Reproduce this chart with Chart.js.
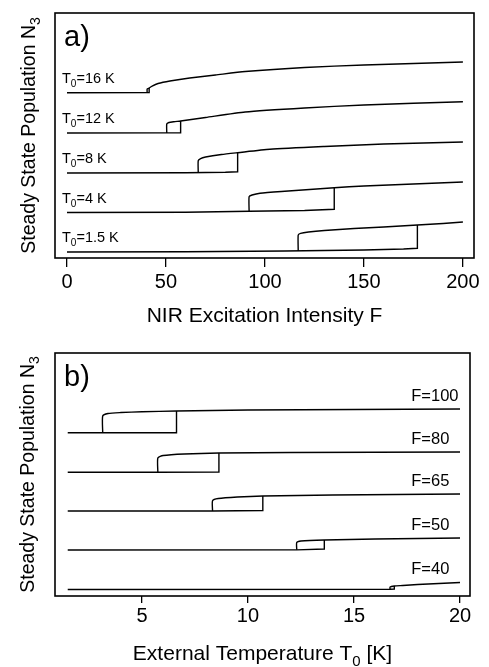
<!DOCTYPE html>
<html>
<head>
<meta charset="utf-8">
<script src="https://cdn.jsdelivr.net/npm/chart.js@4.4.1/dist/chart.umd.min.js"></script>
<style>
  body { margin: 0; background: #fff; }
  #wrap { position: relative; width: 489px; height: 667px; }
  canvas { position: absolute; left: 0; }
</style>
</head>
<body>
<div id="wrap">
  <canvas id="chartA" width="489" height="330" style="top:0"></canvas>
  <canvas id="chartB" width="489" height="337" style="top:330px"></canvas>
</div>
<script>
// ---- panel a) : N3 vs NIR excitation intensity F, one curve per T0 ----
const tempsA = ["1.5", "4", "8", "12", "16"];
// lower branch (ends with the jump up)
const lowFA = [
  [0, 60, 110, 150, 170, 177, 177],
  [0, 60, 92, 120, 135, 135],
  [0, 60, 80, 86.2, 86.2],
  [0, 50, 57.4, 57.4],
  [0, 41.5, 41.5]
];
const lowNA = [
  [0.245, 0.253, 0.286, 0.327, 0.367, 0.396, 1.347],
  [1.857, 1.869, 1.906, 1.939, 1.988, 2.869],
  [3.469, 3.478, 3.498, 3.522, 4.298],
  [5.102, 5.106, 5.114, 5.592],
  [6.747, 6.75, 6.939]
];
// upper branch (starts with the jump down)
const upFA = [
  [116.8, 116.8, 118, 122, 130, 145, 160, 177, 190, 200],
  [92, 92, 93.5, 97.5, 110, 135, 150, 175, 200],
  [66.3, 66.3, 67.5, 70, 78, 86.2, 102.5, 130, 160, 200],
  [50.4, 50.4, 51.5, 54, 57.4, 70, 90, 120, 150, 200],
  [40.5, 40.5, 41.5, 43, 46, 52, 62, 75, 90, 120, 150, 200]
];
const upNA = [
  [0.29, 0.939, 1.008, 1.061, 1.122, 1.204, 1.265, 1.347, 1.408, 1.469],
  [1.906, 2.502, 2.571, 2.641, 2.722, 2.869, 2.939, 3.02, 3.102],
  [3.48, 3.971, 4.061, 4.122, 4.224, 4.298, 4.437, 4.551, 4.653, 4.735],
  [5.106, 5.469, 5.531, 5.563, 5.592, 5.735, 5.959, 6.122, 6.245, 6.38],
  [6.75, 6.898, 6.939, 7.02, 7.122, 7.224, 7.347, 7.469, 7.61, 7.776, 7.878, 8.0]
];
const ticksA = [0, 50, 100, 150, 200];

// ---- panel b) : N3 vs external temperature T0, one curve per F ----
const fluxB = ["100", "80", "65", "50", "40"];
const lowTB = [
  [1.5, 4, 6.63, 6.63],
  [1.5, 5.75, 8.63, 8.63],
  [1.5, 8.33, 10.7, 10.7],
  [1.5, 12.3, 13.6, 13.6],
  [1.5, 16.7, 16.9, 16.9]
];
const lowNB = [
  [6.72, 6.72, 6.72, 7.613],
  [5.091, 5.091, 5.1, 5.885],
  [3.498, 3.5, 3.52, 4.115],
  [1.893, 1.9, 1.934, 2.305],
  [0.267, 0.28, 0.288, 0.412]
];
const upTB = [
  [3.15, 3.15, 3.4, 4, 5, 6.63, 10, 15, 20],
  [5.75, 5.75, 6.0, 7.0, 8.63, 12, 20],
  [8.33, 8.33, 8.6, 9.5, 10.7, 14, 20],
  [12.3, 12.3, 12.5, 13.6, 16, 20],
  [16.7, 16.7, 16.9, 17.3, 18, 20]
];
const upNB = [
  [6.72, 7.407, 7.51, 7.55, 7.584, 7.613, 7.654, 7.675, 7.695],
  [5.091, 5.679, 5.78, 5.844, 5.885, 5.905, 5.926],
  [3.5, 3.922, 4.012, 4.074, 4.115, 4.156, 4.198],
  [1.9, 2.202, 2.263, 2.305, 2.346, 2.387],
  [0.28, 0.37, 0.412, 0.432, 0.473, 0.556]
];
const ticksB = [5, 10, 15, 20];

const FONT = "'Liberation Sans', Arial, Helvetica, sans-serif";
Chart.defaults.font.family = FONT;
Chart.defaults.color = "#000";

function toPoints(xs, ys) {
  return xs.map((x, i) => ({ x: x, y: ys[i] }));
}

function buildSets(lowX, lowY, upX, upY) {
  const sets = [];
  lowX.forEach((xs, i) => {
    sets.push({ data: toPoints(xs, lowY[i]), tension: 0 });
    sets.push({ data: toPoints(upX[i], upY[i]), tension: 0.2 });
  });
  return sets;
}

// text with one subscript part: main + sub + tail
function drawSub(ctx, main, sub, tail, x, y, size, align) {
  const big = size + "px " + FONT;
  const small = Math.round(size * 0.7) + "px " + FONT;
  ctx.font = big;
  const w1 = ctx.measureText(main).width;
  const w3 = ctx.measureText(tail).width;
  ctx.font = small;
  const w2 = ctx.measureText(sub).width;
  const total = w1 + w2 + w3;
  let x0 = x;
  if (align === "center") x0 = x - total / 2;
  ctx.textAlign = "left";
  ctx.textBaseline = "alphabetic";
  ctx.font = big;
  ctx.fillText(main, x0, y);
  ctx.font = small;
  ctx.fillText(sub, x0 + w1, y + size * 0.28);
  ctx.font = big;
  ctx.fillText(tail, x0 + w1 + w2, y);
}

const framePlugin = {
  id: "frame",
  afterDraw(chart, args, opts) {
    const { ctx, chartArea: a, scales } = chart;
    ctx.save();
    ctx.strokeStyle = "#000";
    ctx.lineWidth = 1.6;
    ctx.strokeRect(a.left, a.top, a.right - a.left, a.bottom - a.top);
    ctx.fillStyle = "#000";

    ctx.font = "29px " + FONT;
    ctx.textAlign = "left";
    ctx.textBaseline = "alphabetic";
    ctx.fillText(opts.letter, a.left + 9, a.top + 33);

    drawSub(ctx, opts.xTitle[0], opts.xTitle[1], opts.xTitle[2],
      (a.left + a.right) / 2, a.bottom + 64, 21, "center");

    ctx.save();
    ctx.translate(opts.yTitleX, (a.top + a.bottom) / 2);
    ctx.rotate(-Math.PI / 2);
    drawSub(ctx, "Steady State Population N", "3", "", 0, 0, 19.5, "center");
    ctx.restore();

    // curve labels
    const ds = chart.data.datasets;
    opts.labels.forEach((lab, i) => {
      let px, py;
      if (opts.labelSide === "left") {
        const p0 = ds[i * 2].data[0];
        px = a.left + 7;
        py = scales.y.getPixelForValue(p0.y) - 10;
      } else {
        const up = ds[i * 2 + 1].data;
        const pl = up[up.length - 1];
        px = scales.x.getPixelForValue(opts.labelX);
        py = scales.y.getPixelForValue(pl.y) - 8;
      }
      drawSub(ctx, lab[0], lab[1], lab[2], px, py, opts.labelSize, "left");
    });
    ctx.restore();
  }
};

function makeChart(id, datasets, xmin, xmax, tickVals, pad, axisH, tickLen, tickPad, frameOpts) {
  return new Chart(document.getElementById(id), {
    type: "line",
    data: { datasets: datasets },
    options: {
      responsive: false,
      animation: false,
      devicePixelRatio: 1,
      layout: { padding: pad },
      plugins: {
        legend: { display: false },
        tooltip: { enabled: false },
        frame: frameOpts
      },
      elements: {
        point: { radius: 0 },
        line: { borderColor: "#000", borderWidth: 1.4, fill: false, capBezierPoints: true }
      },
      scales: {
        x: {
          type: "linear",
          min: xmin,
          max: xmax,
          afterBuildTicks: (s) => { s.ticks = tickVals.map((v) => ({ value: v })); },
          ticks: { color: "#000", font: { size: 20 }, padding: tickPad, maxRotation: 0 },
          grid: { display: true, drawOnChartArea: false, drawTicks: true, tickLength: tickLen, color: "#000", lineWidth: 1.3 },
          border: { display: false },
          afterFit: (s) => { s.height = axisH; }
        },
        y: { display: false, min: 0, max: 10 }
      }
    },
    plugins: [framePlugin]
  });
}

makeChart("chartA", buildSets(lowFA, lowNA, upFA, upNA), -6.06, 205.6, ticksA,
  { left: 55, right: 15, top: 13, bottom: 0 }, 72, 9, 3, {
    letter: "a)",
    xTitle: ["NIR Excitation Intensity F", "", ""],
    yTitleX: 35,
    labels: tempsA.map((t) => ["T", "0", "=" + t + " K"]),
    labelSide: "left",
    labelSize: 14.5
  });

makeChart("chartB", buildSets(lowTB, lowNB, upTB, upNB), 0.9, 20.47, ticksB,
  { left: 55, right: 19, top: 23, bottom: 0 }, 71, 7, 1.5, {
    letter: "b)",
    xTitle: ["External Temperature T", "0", " [K]"],
    yTitleX: 34,
    labels: fluxB.map((f) => ["F=" + f, "", ""]),
    labelSide: "right",
    labelX: 17.7,
    labelSize: 16.5
  });
</script>
</body>
</html>
